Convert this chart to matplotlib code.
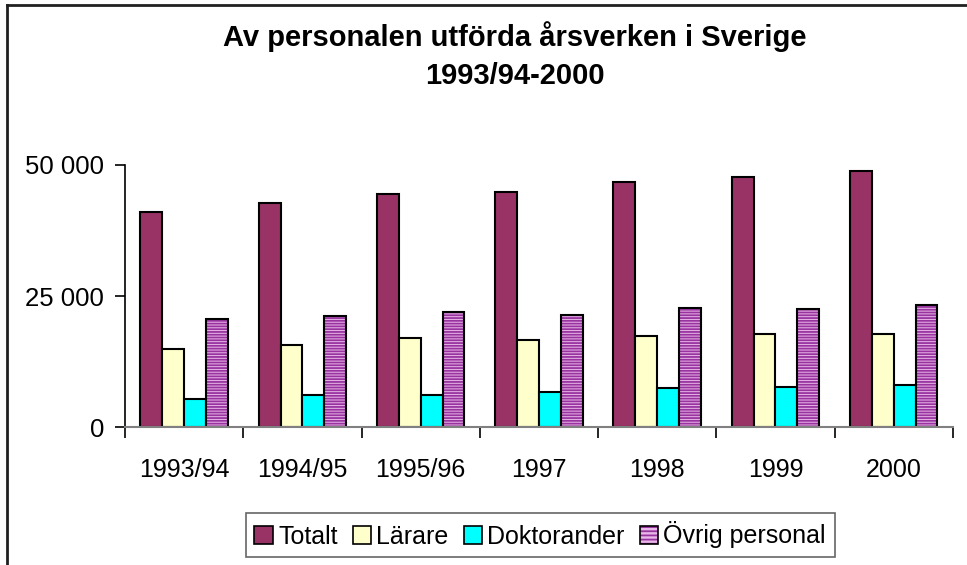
import numpy as np
import matplotlib
matplotlib.use("Agg")
import matplotlib.pyplot as plt
from matplotlib.patches import Patch
from matplotlib.lines import Line2D

plt.rcParams['font.family'] = ['Liberation Sans', 'DejaVu Sans']
plt.rcParams['hatch.linewidth'] = 1.3

# ----- data -----
years = ['1993/94', '1994/95', '1995/96', '1997', '1998', '1999', '2000']
totalt = [41000, 42800, 44500, 44800, 46800, 47800, 48900]
larare = [14900, 15600, 17000, 16600, 17400, 17700, 17700]
doktorander = [5400, 6100, 6100, 6700, 7400, 7600, 8000]
ovrig = [20600, 21100, 21900, 21400, 22700, 22500, 23300]

series = ['Totalt', 'Lärare', 'Doktorander', 'Övrig personal']
colors = ['#993366', '#FFFFCC', '#00FFFF', '#E8B8E8']

fig = plt.figure(figsize=(9.67, 5.65), dpi=100)
ax = fig.add_axes([0.1293, 0.2442, 0.856, 0.4638])

x = np.arange(len(years))
w = 0.185
vals = [totalt, larare, doktorander, ovrig]
handles = []
for i, (name, v, c) in enumerate(zip(series, vals, colors)):
    pos = x + (i - 1.5) * w
    if i == 3:
        # striped fill, then black outline on top
        ax.bar(pos, v, w, color=c, edgecolor='#9933A0', hatch='------', linewidth=0)
        ax.bar(pos, v, w, fill=False, edgecolor='black', linewidth=1.5)
        h = (Patch(facecolor=c, edgecolor='#9933A0', hatch='----', linewidth=0),
             Patch(fill=False, edgecolor='black', linewidth=1.2))
    else:
        ax.bar(pos, v, w, color=c, edgecolor='black', linewidth=1.5)
        h = Patch(facecolor=c, edgecolor='black', linewidth=1.2)
    handles.append(h)

ax.set_xlim(-0.5, len(years) - 0.5)
ax.set_ylim(0, 50000)
ax.set_yticks([0, 25000, 50000])
ax.set_yticklabels(['0', '25 000', '50 000'])
ax.set_xticks(np.arange(len(years) + 1) - 0.5)
ax.set_xticklabels([])
ax.set_xticks(x, minor=True)
ax.set_xticklabels(years, minor=True)
ax.tick_params(axis='x', which='minor', length=0, pad=22, labelsize=18)
ax.tick_params(axis='x', which='major', length=8, width=1.2, color='black', direction='out')
ax.tick_params(axis='y', length=7, width=1.2, pad=8, labelsize=18.5)

for s in ['top', 'right']:
    ax.spines[s].set_visible(False)
ax.spines['left'].set_color('black')
ax.spines['left'].set_linewidth(1.2)
ax.spines['bottom'].set_color('#808080')
ax.spines['bottom'].set_linewidth(1.5)

fig.text(0.532, 1 - 37 / 565, 'Av personalen utförda årsverken i Sverige',
         ha='center', va='center', fontsize=21, fontweight='bold')
fig.text(0.532, 1 - 76 / 565, '1993/94-2000',
         ha='center', va='center', fontsize=21, fontweight='bold')

leg = fig.legend(handles, series, loc='center', bbox_to_anchor=(0.5585, 1 - 535 / 565),
                 ncol=4, fontsize=18, frameon=True, fancybox=False,
                 handlelength=0.75, handleheight=0.75, handletextpad=0.2,
                 columnspacing=0.6, borderpad=0.35)
leg.get_frame().set_edgecolor('#404040')
leg.get_frame().set_linewidth(1.2)

# outer chart frame (top and left edge visible)
fig.add_artist(Line2D([7 / 967, 1], [1 - 5 / 565, 1 - 5 / 565], color='#202020', lw=2,
                      transform=fig.transFigure))
fig.add_artist(Line2D([7 / 967, 7 / 967], [0, 1 - 5 / 565], color='#202020', lw=2,
                      transform=fig.transFigure))

fig.savefig('out.png', dpi=100)
